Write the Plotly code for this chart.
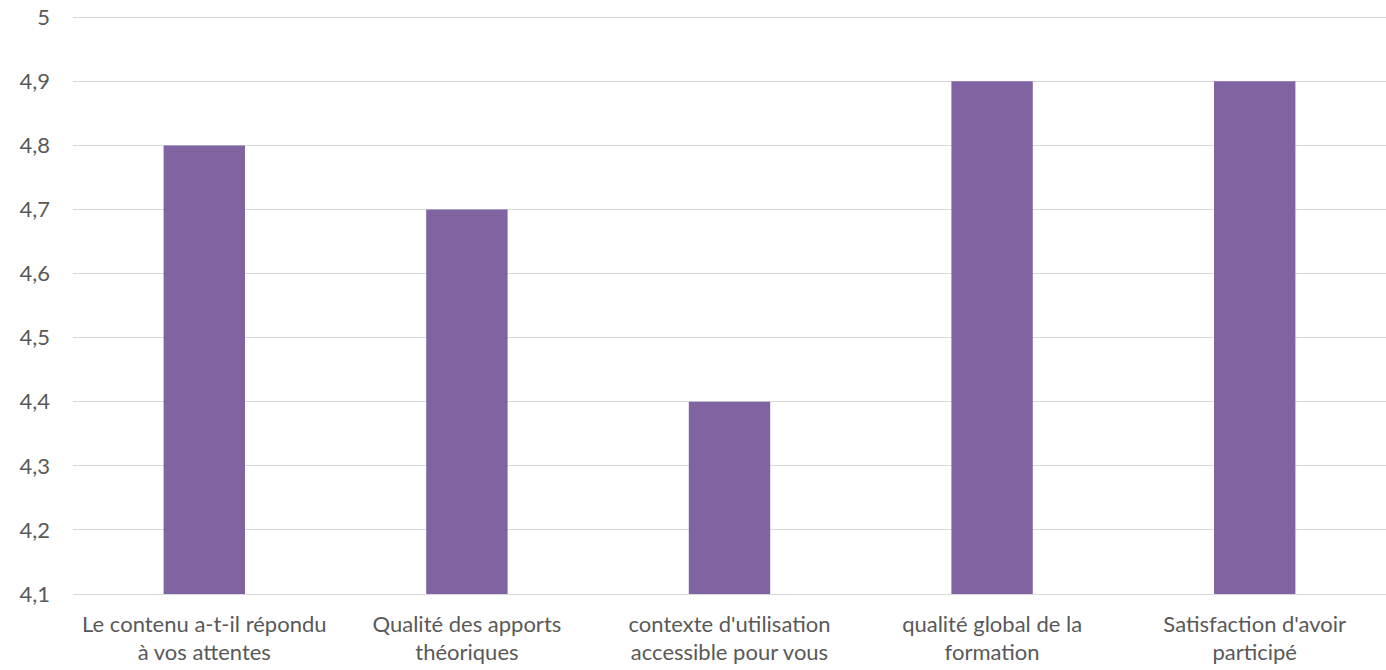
import plotly.graph_objects as go

categories = [
    "Le contenu a-t-il répondu<br>à vos attentes",
    "Qualité des apports<br>théoriques",
    "contexte d'utilisation<br>accessible pour vous",
    "qualité global de la<br>formation",
    "Satisfaction d'avoir<br>participé",
]
values = [4.8, 4.7, 4.4, 4.9, 4.9]
y_ticks = [4.1, 4.2, 4.3, 4.4, 4.5, 4.6, 4.7, 4.8, 4.9, 5.0]
y_tick_labels = ["4,1", "4,2", "4,3", "4,4", "4,5", "4,6", "4,7", "4,8", "4,9", "5"]

fig = go.Figure(go.Bar(x=categories, y=values, marker_color="#8064A2", marker_line_width=0))

font = dict(family="Lato, 'Open Sans', sans-serif", size=22, color="#595959")
fig.update_layout(
    width=1386, height=670,
    margin=dict(l=73, r=0, t=16, b=76),
    paper_bgcolor="white", plot_bgcolor="white",
    bargap=0.69,
    font=font,
    showlegend=False,
)
fig.update_yaxes(
    range=[4.1, 5.002], tickvals=y_ticks, ticktext=y_tick_labels,
    showgrid=True, gridcolor="#D9D9D9", gridwidth=1.3,
    zeroline=False, showline=False, ticklabelstandoff=22, automargin=False,
)
fig.update_xaxes(
    showgrid=False, showline=True, linecolor="#D9D9D9", linewidth=1.3,
    ticklabelstandoff=10, automargin=False,
)
fig.write_html(
    "out.html",
    config={"displayModeBar": False},
    post_script="document.body.style.margin='0';",
)
